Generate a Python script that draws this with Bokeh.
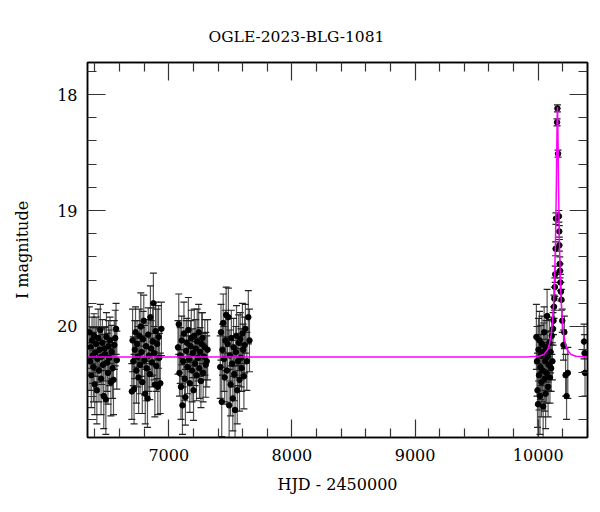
from bokeh.plotting import figure
from bokeh.models import (Range1d, LinearAxis, FixedTicker, Whisker, TeeHead,
                          ColumnDataSource)
from bokeh.embed import file_html
from bokeh.resources import INLINE

title_text = "OGLE-2023-BLG-1081"
x_label = "HJD - 2450000"
y_label = "I magnitude"

x_major = [7000, 8000, 9000, 10000]
x_minor = [6400, 6600, 6800, 7200, 7400, 7600, 7800, 8200, 8400, 8600, 8800,
           9200, 9400, 9600, 9800, 10200, 10400]
y_major = [18, 19, 20]
y_minor = [17.8, 18.2, 18.4, 18.6, 18.8, 19.2, 19.4, 19.6, 19.8, 20.2, 20.4,
           20.6, 20.8]

# season 1
t1 = [6355, 6360, 6366, 6371, 6377, 6382, 6388, 6393, 6399, 6404, 6410, 6416,
      6421, 6427, 6433, 6438, 6444, 6450, 6455, 6461, 6466, 6472, 6478, 6483,
      6489, 6494, 6500, 6506, 6511, 6517, 6523, 6530, 6537, 6544, 6551, 6558,
      6565, 6572, 6578]
m1 = [20.05, 20.30, 20.18, 20.42, 20.12, 20.25, 20.35, 20.08, 20.50, 20.22,
      20.15, 20.55, 20.28, 20.10, 20.38, 20.20, 20.03, 20.45, 20.26, 20.14,
      20.33, 20.60, 20.19, 20.24, 20.63, 20.09, 20.31, 20.40, 20.17, 20.27,
      20.12, 20.48, 20.22, 20.36, 20.46, 20.16, 20.10, 20.02, 20.29]
e1 = [0.22, 0.25, 0.18, 0.28, 0.20, 0.24, 0.30, 0.19, 0.26, 0.21, 0.23, 0.29,
      0.20, 0.25, 0.27, 0.18, 0.22, 0.31, 0.24, 0.20, 0.26, 0.28, 0.19, 0.23,
      0.30, 0.21, 0.25, 0.27, 0.22, 0.24, 0.20, 0.29, 0.23, 0.26, 0.30, 0.21,
      0.24, 0.22, 0.25]

# season 2
t2 = [6700, 6706, 6712, 6718, 6724, 6730, 6737, 6743, 6749, 6755, 6761, 6767,
      6773, 6779, 6785, 6791, 6797, 6803, 6809, 6815, 6821, 6827, 6833, 6839,
      6845, 6851, 6857, 6863, 6869, 6875, 6881, 6887, 6893, 6899, 6905, 6911,
      6917, 6923, 6931, 6940]
m2 = [20.56, 20.12, 20.30, 20.54, 20.20, 20.05, 20.38, 20.15, 20.26, 20.44,
      20.08, 20.33, 20.00, 20.22, 20.48, 20.11, 19.95, 20.29, 20.58, 20.17,
      20.36, 20.62, 20.07, 20.25, 20.41, 19.92, 20.19, 20.31, 20.13, 19.80,
      20.23, 20.50, 20.04, 20.34, 20.15, 20.52, 20.09, 20.27, 20.49, 20.02]
e2 = [0.24, 0.27, 0.21, 0.30, 0.25, 0.22, 0.28, 0.20, 0.26, 0.31, 0.23, 0.25,
      0.29, 0.21, 0.27, 0.24, 0.22, 0.30, 0.26, 0.20, 0.28, 0.25, 0.23, 0.31,
      0.22, 0.27, 0.24, 0.21, 0.29, 0.26, 0.23, 0.28, 0.25, 0.22, 0.30, 0.24,
      0.27, 0.21, 0.26, 0.23]

# season 3
t3 = [7075, 7081, 7087, 7093, 7099, 7105, 7111, 7117, 7123, 7129, 7135, 7141,
      7147, 7153, 7159, 7165, 7171, 7177, 7183, 7189, 7195, 7201, 7207, 7213,
      7219, 7225, 7231, 7237, 7243, 7249, 7255, 7261, 7267, 7273, 7279, 7286,
      7293, 7300, 7308, 7315]
m3 = [20.18, 19.98, 20.40, 20.25, 20.52, 20.12, 20.68, 20.30, 20.06, 20.45,
      20.61, 20.21, 20.14, 20.35, 20.03, 20.28, 20.49, 20.17, 20.10, 20.38,
      20.23, 20.55, 20.08, 20.32, 20.19, 20.42, 20.13, 20.27, 20.05, 20.36,
      20.22, 20.47, 20.15, 20.10, 20.40, 20.26, 20.18, 20.33, 20.30, 20.20]
e3 = [0.23, 0.26, 0.20, 0.24, 0.28, 0.21, 0.25, 0.22, 0.27, 0.19, 0.24, 0.26,
      0.21, 0.23, 0.28, 0.20, 0.25, 0.22, 0.24, 0.27, 0.21, 0.26, 0.23, 0.19,
      0.25, 0.22, 0.28, 0.20, 0.24, 0.26, 0.21, 0.23, 0.27, 0.22, 0.25, 0.20,
      0.24, 0.28, 0.22, 0.26]

# season 4
t4 = [7418, 7424, 7430, 7436, 7442, 7448, 7454, 7460, 7466, 7472, 7478, 7484,
      7490, 7496, 7502, 7508, 7514, 7520, 7526, 7532, 7538, 7544, 7550, 7556,
      7562, 7568, 7574, 7580, 7586, 7592, 7598, 7604, 7610, 7616, 7622, 7634,
      7646, 7655]
m4 = [20.35, 20.05, 20.65, 20.20, 19.97, 20.28, 20.44, 20.12, 19.90, 20.38,
      20.15, 19.92, 20.68, 20.25, 20.50, 20.10, 20.32, 20.62, 20.18, 20.41,
      20.72, 20.22, 20.08, 20.55, 20.30, 20.14, 20.46, 20.11, 20.27, 20.36,
      20.06, 20.20, 20.43, 20.16, 20.02, 20.30, 19.92, 20.12]
e4 = [0.27, 0.24, 0.30, 0.22, 0.25, 0.28, 0.21, 0.26, 0.24, 0.29, 0.23, 0.25,
      0.31, 0.22, 0.27, 0.24, 0.20, 0.28, 0.25, 0.23, 0.30, 0.22, 0.26, 0.29,
      0.21, 0.24, 0.27, 0.23, 0.25, 0.20, 0.26, 0.22, 0.28, 0.24, 0.21, 0.25,
      0.23, 0.27]

# season 5 (event)
t5 = [9985, 9990, 9994, 9998, 10002, 10006, 10010, 10014, 10018, 10022, 10026,
      10030, 10034, 10040, 10044, 10048, 10052, 10056, 10060, 10064, 10068,
      10072, 10076, 10080, 10085, 10090, 10095, 10100, 10105, 10110, 10115,
      10120, 10124, 10128, 10131, 10135, 10138, 10141, 10144, 10153, 10156,
      10161, 10168, 10171, 10172, 10175, 10177, 10180, 10184, 10189, 10195,
      10205, 10212, 10222, 10230, 10240, 10372, 10376, 10380]
m5 = [20.09, 20.30, 20.55, 20.67, 20.20, 20.42, 20.12, 20.60, 20.35, 20.25,
      20.48, 20.15, 20.38, 20.69, 20.22, 20.05, 20.45, 20.30, 20.58, 20.18,
      20.40, 19.91, 20.26, 20.52, 20.33, 20.14, 20.44, 20.22, 20.36, 20.08,
      20.30, 20.02, 19.95, 19.83, 19.76, 19.66, 19.55, 19.33, 19.07, 18.24,
      18.12, 18.51, 19.05, 19.18, 19.30, 19.46, 19.52, 19.62, 19.70, 19.77,
      19.95, 20.16, 20.05, 20.42, 20.60, 20.40, 20.13, 20.23, 20.40]
e5 = [0.28, 0.30, 0.32, 0.35, 0.27, 0.30, 0.25, 0.33, 0.28, 0.26, 0.30, 0.24,
      0.27, 0.32, 0.25, 0.22, 0.28, 0.25, 0.30, 0.23, 0.26, 0.23, 0.22, 0.26,
      0.22, 0.20, 0.22, 0.18, 0.20, 0.16, 0.16, 0.14, 0.12, 0.10, 0.10, 0.08,
      0.07, 0.06, 0.05, 0.03, 0.03, 0.03, 0.05, 0.05, 0.05, 0.06, 0.06, 0.07,
      0.08, 0.09, 0.10, 0.13, 0.14, 0.18, 0.20, 0.22, 0.15, 0.16, 0.20]

# fitted model curve
model_t = [6340, 9906, 10006, 10046, 10076, 10091, 10106, 10116, 10124, 10131,
           10136, 10140, 10144, 10147, 10150, 10152, 10154, 10156, 10158,
           10160, 10162, 10165, 10168, 10172, 10176, 10181, 10188, 10196,
           10206, 10221, 10236, 10266, 10306, 10406]
model_m = [20.264, 20.264, 20.257, 20.241, 20.202, 20.154, 20.062, 19.950,
           19.813, 19.631, 19.451, 19.262, 19.019, 18.791, 18.521, 18.332,
           18.173, 18.107, 18.173, 18.332, 18.521, 18.791, 19.019, 19.262,
           19.451, 19.631, 19.813, 19.950, 20.062, 20.154, 20.202, 20.241,
           20.257, 20.264]

ts, ms, es = [], [], []
for tt, mm, ee in [(t1, m1, e1), (t2, m2, e2), (t3, m3, e3), (t4, m4, e4),
                   (t5, m5, e5)]:
    for a, b, c in zip(tt, mm, ee):
        ts.append(a)
        ms.append(b)
        es.append(c)

src = ColumnDataSource(dict(t=ts, m=ms, lo=[a + b for a, b in zip(ms, es)],
                            hi=[a - b for a, b in zip(ms, es)]))

FONT = "DejaVu Serif"

p = figure(width=600, height=512, output_backend="svg", toolbar_location=None,
           x_range=Range1d(6340, 10400), y_range=Range1d(20.957, 17.724),
           min_border_left=87, min_border_right=13, min_border_top=62,
           min_border_bottom=75, x_axis_type=None, y_axis_type=None)
p.grid.visible = False
p.outline_line_color = "black"
p.outline_line_width = 1.5
p.background_fill_color = "white"
p.border_fill_color = "white"

p.title.text = title_text
p.title.text_font = FONT
p.title.text_font_size = "15.5px"
p.title.text_font_style = "normal"
p.title.text_color = "black"
p.title.align = "left"
p.title.offset = 121
p.title.standoff = 34

xt = FixedTicker(ticks=x_major, minor_ticks=x_minor)
yt = FixedTicker(ticks=y_major, minor_ticks=y_minor)


def style(ax, labels, ticks):
    ax.axis_line_color = "black"
    ax.axis_line_width = 1.5
    ax.major_tick_in = 18
    ax.major_tick_out = 0
    ax.minor_tick_in = 9
    ax.minor_tick_out = 0
    ax.major_tick_line_color = "#333333"
    ax.minor_tick_line_color = "#333333"
    ax.major_tick_line_width = 1.2
    ax.minor_tick_line_width = 1.2
    ax.major_label_text_font = FONT
    ax.major_label_text_font_size = "16px"
    ax.major_label_text_color = "black"
    if labels:
        ax.axis_label_text_font = FONT
        ax.axis_label_text_font_size = "16px"
        ax.axis_label_text_font_style = "normal"
        ax.axis_label_text_color = "black"
    else:
        ax.major_label_overrides = {k: "" for k in ticks}
        ax.major_label_standoff = 0


xb = LinearAxis(ticker=xt, axis_label=x_label)
style(xb, True, x_major)
xb.major_label_standoff = 11
xb.axis_label_standoff = 11
p.add_layout(xb, "below")

yl = LinearAxis(ticker=yt, axis_label=y_label)
style(yl, True, y_major)
yl.major_label_standoff = 10
yl.axis_label_standoff = 22
p.add_layout(yl, "left")

xa = LinearAxis(ticker=xt)
style(xa, False, x_major)
p.add_layout(xa, "above")

yr = LinearAxis(ticker=yt)
style(yr, False, y_major)
p.add_layout(yr, "right")

w = Whisker(base="t", upper="hi", lower="lo", source=src, dimension="height",
            line_color="#555555", line_width=1.2,
            upper_head=TeeHead(size=7, line_color="#222222", line_width=1.2),
            lower_head=TeeHead(size=7, line_color="#222222", line_width=1.2))
p.add_layout(w)

p.scatter("t", "m", source=src, size=5.5, color="black")
p.line(model_t, model_m, line_color="#ff00ff", line_width=1.5)

open("out.html", "w").write(file_html(p, INLINE))
